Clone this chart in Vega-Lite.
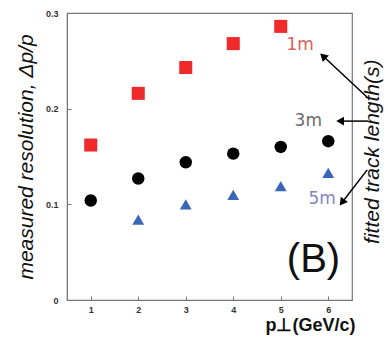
{
  "$schema": "https://vega.github.io/schema/vega-lite/v6.json",
  "width": 285,
  "height": 287,
  "autosize": {"type": "none"},
  "padding": {"left": 67, "top": 13, "right": 36, "bottom": 38},
  "background": "white",
  "config": {
    "view": {"stroke": "#777", "strokeWidth": 1.2},
    "font": "Liberation Sans"
  },
  "resolve": {"scale": {"color": "independent"}},
  "datasets": {
    "pts": [
      {"pt": 1, "res": 0.162, "len": "1m"},
      {"pt": 2, "res": 0.216, "len": "1m"},
      {"pt": 3, "res": 0.243, "len": "1m"},
      {"pt": 4, "res": 0.268, "len": "1m"},
      {"pt": 5, "res": 0.286, "len": "1m"},
      {"pt": 1, "res": 0.104, "len": "3m"},
      {"pt": 2, "res": 0.127, "len": "3m"},
      {"pt": 3, "res": 0.144, "len": "3m"},
      {"pt": 4, "res": 0.153, "len": "3m"},
      {"pt": 5, "res": 0.160, "len": "3m"},
      {"pt": 6, "res": 0.166, "len": "3m"},
      {"pt": 2, "res": 0.084, "len": "5m"},
      {"pt": 3, "res": 0.100, "len": "5m"},
      {"pt": 4, "res": 0.110, "len": "5m"},
      {"pt": 5, "res": 0.119, "len": "5m"},
      {"pt": 6, "res": 0.133, "len": "5m"}
    ],
    "labels": [
      {"x": 5.41, "y": 0.267, "t": "1m"},
      {"x": 5.58, "y": 0.187, "t": "3m"},
      {"x": 5.87, "y": 0.106, "t": "5m"}
    ],
    "arrows": [
      {"a": "1m", "x": 6.82, "y": 0.212, "x2": 5.89, "y2": 0.255},
      {"a": "3m", "x": 6.84, "y": 0.187, "x2": 6.25, "y2": 0.187},
      {"a": "5m", "x": 6.82, "y": 0.136, "x2": 6.29, "y2": 0.102}
    ]
  },
  "encoding": {
    "x": {"type": "quantitative"},
    "y": {"type": "quantitative"}
  },
  "layer": [
    {
      "data": {"name": "pts"},
      "mark": {"type": "point", "filled": true, "opacity": 1},
      "encoding": {
        "x": {
          "field": "pt", "type": "quantitative",
          "scale": {"domain": [0.5, 6.5], "nice": false, "zero": false},
          "axis": {
            "values": [1, 2, 3, 4, 5, 6], "grid": false, "tickSize": -4,
            "domainColor": "#777", "tickColor": "#777",
            "labelFont": "Liberation Sans", "labelFontSize": 9, "labelFontWeight": "bold", "labelColor": "#333",
            "labelPadding": 9,
            "title": "p⊥(GeV/c)", "titleFont": "Liberation Sans", "titleFontSize": 18, "titleFontWeight": "bold",
            "titleColor": "#111", "titleAnchor": "end", "titlePadding": 0, "titleX": 288, "titleY": 16, "titleBaseline": "top"
          }
        },
        "y": {
          "field": "res", "type": "quantitative",
          "scale": {"domain": [0, 0.3], "nice": false},
          "axis": {
            "values": [0, 0.1, 0.2, 0.3], "grid": false, "tickSize": -4,
            "domainColor": "#777", "tickColor": "#777",
            "labelExpr": "datum.value == 0 ? '0' : format(datum.value, '.1f')",
            "labelFont": "Liberation Sans", "labelFontSize": 9, "labelFontWeight": "bold", "labelColor": "#333",
            "labelPadding": 13,
            "title": "measured resolution, Δp/p", "titleFont": "Liberation Sans", "titleFontSize": 21,
            "titleFontWeight": "normal", "titleFontStyle": "italic", "titleColor": "#111", "titlePadding": 9
          }
        },
        "shape": {
          "field": "len", "type": "nominal",
          "scale": {"domain": ["1m", "3m", "5m"], "range": ["square", "circle", "triangle-up"]},
          "legend": null
        },
        "color": {
          "field": "len", "type": "nominal",
          "scale": {"domain": ["1m", "3m", "5m"], "range": ["#ee2a2a", "#000000", "#3a66b8"]},
          "legend": null
        },
        "size": {
          "field": "len", "type": "nominal",
          "scale": {"domain": ["1m", "3m", "5m"], "range": [170, 140, 110]},
          "legend": null
        }
      }
    },
    {
      "data": {"name": "labels"},
      "mark": {"type": "text", "fontSize": 17, "font": "DejaVu Sans", "fontWeight": "normal", "align": "center", "baseline": "middle"},
      "encoding": {
        "x": {"field": "x", "type": "quantitative"},
        "y": {"field": "y", "type": "quantitative"},
        "text": {"field": "t"},
        "color": {
          "field": "t", "type": "nominal",
          "scale": {"domain": ["1m", "3m", "5m"], "range": ["#e06058", "#6a6a6a", "#8484c4"]},
          "legend": null
        }
      }
    },
    {
      "data": {"name": "arrows"},
      "mark": {"type": "rule", "color": "black", "strokeWidth": 1.5, "clip": false},
      "encoding": {
        "x": {"field": "x", "type": "quantitative"},
        "y": {"field": "y", "type": "quantitative"},
        "x2": {"field": "x2"},
        "y2": {"field": "y2"}
      }
    },
    {
      "data": {"name": "arrows"},
      "transform": [{"filter": "datum.a == '1m'"}],
      "mark": {"type": "point", "shape": "triangle-up", "filled": true, "color": "black", "opacity": 1, "size": 80, "angle": 313, "clip": false},
      "encoding": {
        "x": {"field": "x2", "type": "quantitative"},
        "y": {"field": "y2", "type": "quantitative"}
      }
    },
    {
      "data": {"name": "arrows"},
      "transform": [{"filter": "datum.a == '3m'"}],
      "mark": {"type": "point", "shape": "triangle-left", "filled": true, "color": "black", "opacity": 1, "size": 80, "clip": false},
      "encoding": {
        "x": {"field": "x2", "type": "quantitative"},
        "y": {"field": "y2", "type": "quantitative"}
      }
    },
    {
      "data": {"name": "arrows"},
      "transform": [{"filter": "datum.a == '5m'"}],
      "mark": {"type": "point", "shape": "triangle-up", "filled": true, "color": "black", "opacity": 1, "size": 80, "angle": 217, "clip": false},
      "encoding": {
        "x": {"field": "x2", "type": "quantitative"},
        "y": {"field": "y2", "type": "quantitative"}
      }
    },
    {
      "data": {"values": [{"x": 6.95, "y": 0.155, "t": "fitted track length(s)"}]},
      "mark": {"type": "text", "fontSize": 21, "font": "Liberation Sans", "fontStyle": "italic", "angle": 270, "align": "center", "baseline": "middle", "color": "#111", "clip": false},
      "encoding": {
        "x": {"field": "x", "type": "quantitative"},
        "y": {"field": "y", "type": "quantitative"},
        "text": {"field": "t"}
      }
    },
    {
      "data": {"values": [{"x": 5.69, "y": 0.042, "t": "(B)"}]},
      "mark": {"type": "text", "fontSize": 40, "font": "Liberation Sans", "align": "center", "baseline": "middle", "color": "#111"},
      "encoding": {
        "x": {"field": "x", "type": "quantitative"},
        "y": {"field": "y", "type": "quantitative"},
        "text": {"field": "t"}
      }
    }
  ]
}
